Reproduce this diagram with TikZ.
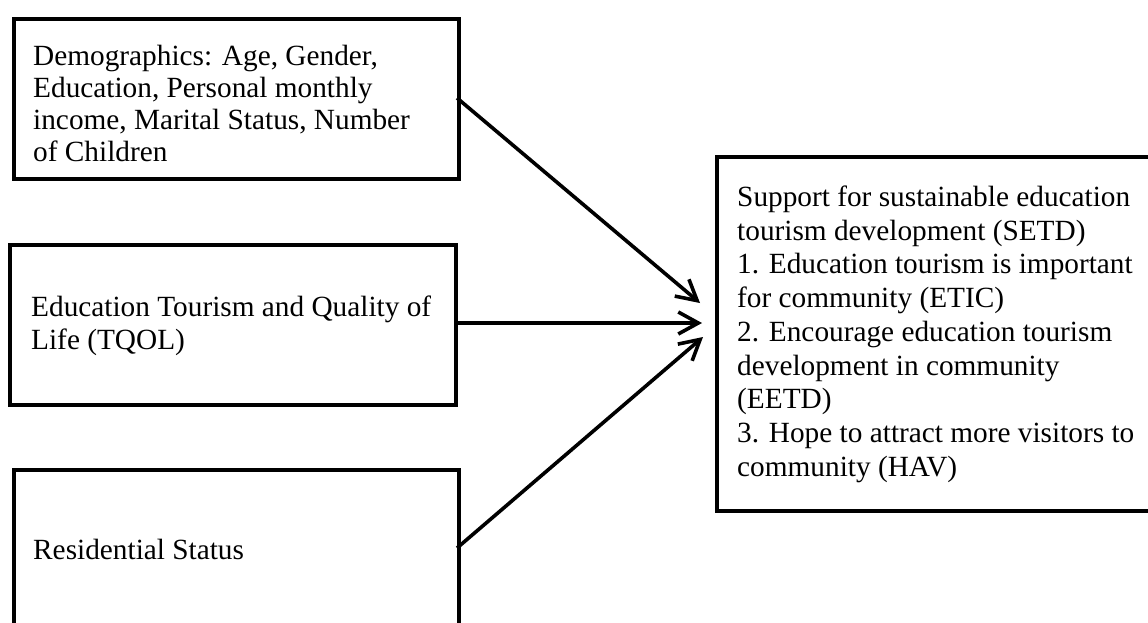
\documentclass[tikz,border=0pt]{standalone}
\usepackage{fontspec}
\setmainfont{Liberation Serif}
\usetikzlibrary{arrows.meta}
\tikzset{
  boxshape/.style={draw=black, line width=3.6pt, fill=white, rectangle, inner sep=0pt, anchor=north west},
  boxtext/.style={anchor=base west, inner sep=0pt, align=left, font=\fontsize{29.3pt}{33.7pt}\selectfont},
  link/.style={line width=3.6pt, -{Straight Barb[length=20pt, width=22pt, line width=3.6pt]}}
}
\begin{document}
\begin{tikzpicture}[x=1pt, y=-1pt]
\useasboundingbox (0,0) rectangle (1148,622);
\clip (0,0) rectangle (1148,622);
\fill[white] (0,0) rectangle (1148,622);
% boxes
\node[boxshape, minimum width=445pt, minimum height=160pt] (demo) at (12,17) {};
\node[boxshape, minimum width=446pt, minimum height=160pt] (tqol) at (8,243) {};
\node[boxshape, minimum width=445pt, minimum height=200pt] (res) at (12,468) {};
\node[boxshape, minimum width=460pt, minimum height=354pt] (setd) at (715,155) {};
% texts (anchored at the baseline of their last line)
\node[boxtext, font=\fontsize{29.3pt}{32pt}\selectfont] (demotext) at (33,161) {Demographics: Age, Gender,\\Education, Personal monthly\\income, Marital Status, Number\\of Children};
\node[boxtext] (tqoltext) at (31,349.7) {Education Tourism and Quality of\\Life (TQOL)};
\node[boxtext] (restext) at (33,559) {Residential Status};
\node[boxtext] (setdtext) at (737,476.1) {Support for sustainable education\\tourism development (SETD)\\1. Education tourism is important\\for community (ETIC)\\2. Encourage education tourism\\development in community\\(EETD)\\3. Hope to attract more visitors to\\community (HAV)};
% connector end points
\coordinate (demoout) at (457,98);
\coordinate (tqolout) at (454,323);
\coordinate (resout) at (457,548);
\coordinate (in1) at (700,303);
\coordinate (in2) at (702,323);
\coordinate (in3) at (703,337);
\draw[link] (demoout) -- (in1);
\draw[link] (tqolout) -- (in2);
\draw[link] (resout) -- (in3);
\end{tikzpicture}
\end{document}
